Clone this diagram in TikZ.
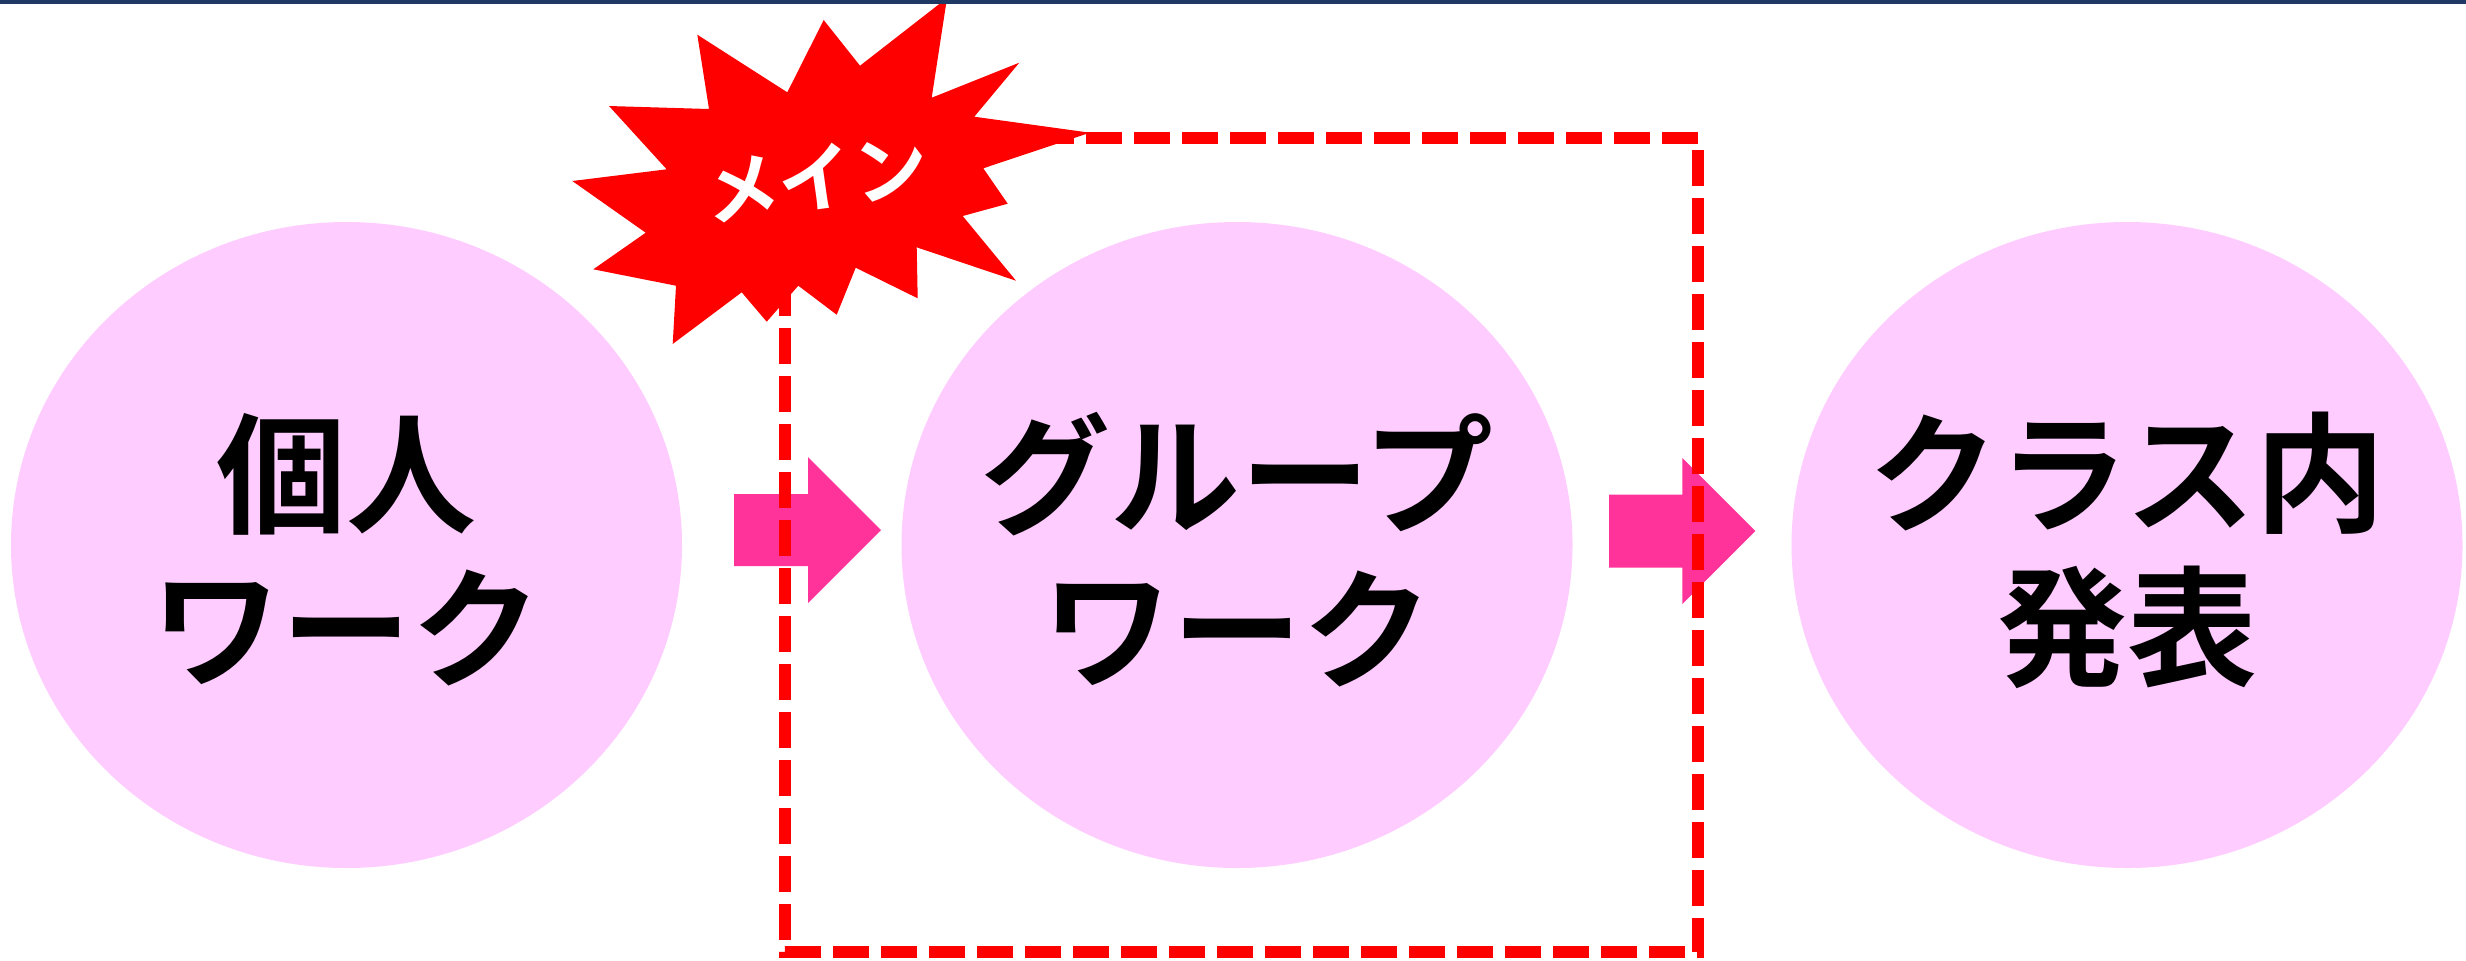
\documentclass[tikz,border=0pt]{standalone}
\usepackage{fontspec}
\newfontfamily\jpfont{Noto Sans CJK JP}[BoldFont={Noto Sans CJK JP Bold}]
\usetikzlibrary{shapes.geometric}
\definecolor{bubblepink}{RGB}{255,204,255}
\definecolor{arrowpink}{RGB}{255,51,153}
\definecolor{topnavy}{RGB}{31,56,100}
\definecolor{burstred}{RGB}{255,0,0}
\begin{document}
\begin{tikzpicture}[x=0.3pt,y=-0.3pt,
  bubble/.style={ellipse, fill=bubblepink, draw=none, inner sep=0pt,
                 minimum width=201.3pt, minimum height=193.8pt},
  bubbletext/.style={font=\jpfont\bfseries\fontsize{39}{46.2}\selectfont,
                 align=center, inner sep=0pt, text=black},
  blockarrow/.style={fill=arrowpink, draw=none},
  framebox/.style={draw=burstred, line width=3.5pt,
                 dash pattern=on 10.8pt off 3.6pt, dash phase=10.5pt},
  burst/.style={fill=burstred, draw=none},
  bursttext/.style={font=\jpfont\bfseries\fontsize{22.5}{27}\selectfont,
                 text=white, inner sep=0pt, rotate=8}]
\useasboundingbox (0,0) rectangle (2466,960);
\fill[white] (0,0) rectangle (2466,960);

% ellipses
\node[bubble] (e1) at (346.5,545) {};
\node[bubble] (e2) at (1237,545) {};
\node[bubble] (e3) at (2127,545) {};

% block arrows
\fill[blockarrow] (734,494) -- (808,494) -- (808,457) -- (881,530)
  -- (808,603) -- (808,566) -- (734,566) -- cycle;
\fill[blockarrow] (1609,494.5) -- (1682.3,494.5) -- (1682.3,458) -- (1755.3,531)
  -- (1682.3,604) -- (1682.3,567.5) -- (1609,567.5) -- cycle;

% dashed frame
\draw[framebox] (785,138) -- (1698.3,138) -- (1698.3,952) -- (785,952) -- cycle;

% starburst
\fill[burst] (947,-2) -- (931.7,97.7) -- (1019.3,62.7) -- (974.3,116.7)
  -- (1090,132.7) -- (983.3,168.3) -- (1007.7,203.7) -- (962.7,216)
  -- (1016,280.7) -- (916.7,247.3) -- (917.7,298.3) -- (855.7,267.7)
  -- (836.7,314.7) -- (798.3,285.7) -- (766.7,321.7) -- (741.7,292.3)
  -- (672.7,344) -- (676,285.7) -- (593.3,269.3) -- (645.7,232.7)
  -- (572.3,181) -- (666.7,169.3) -- (609,106) -- (709,109)
  -- (697.3,34.7) -- (787.3,92.3) -- (823.7,20) -- (860,65.7) -- cycle;
\node[bursttext] (bl) at (816,178) {メイン};

% texts
\node[bubbletext] (t1) at ([yshift=-1.5pt]e1.center) {個人\\ワーク};
\node[bubbletext] (t2) at ([yshift=-1.5pt]e2.center) {グループ\\ワーク};
\node[bubbletext] (t3) at ([yshift=-1.5pt]e3.center) {クラス内\\発表};

% top rule
\fill[topnavy] (0,0) rectangle (2466,3.5);
\end{tikzpicture}
\end{document}
